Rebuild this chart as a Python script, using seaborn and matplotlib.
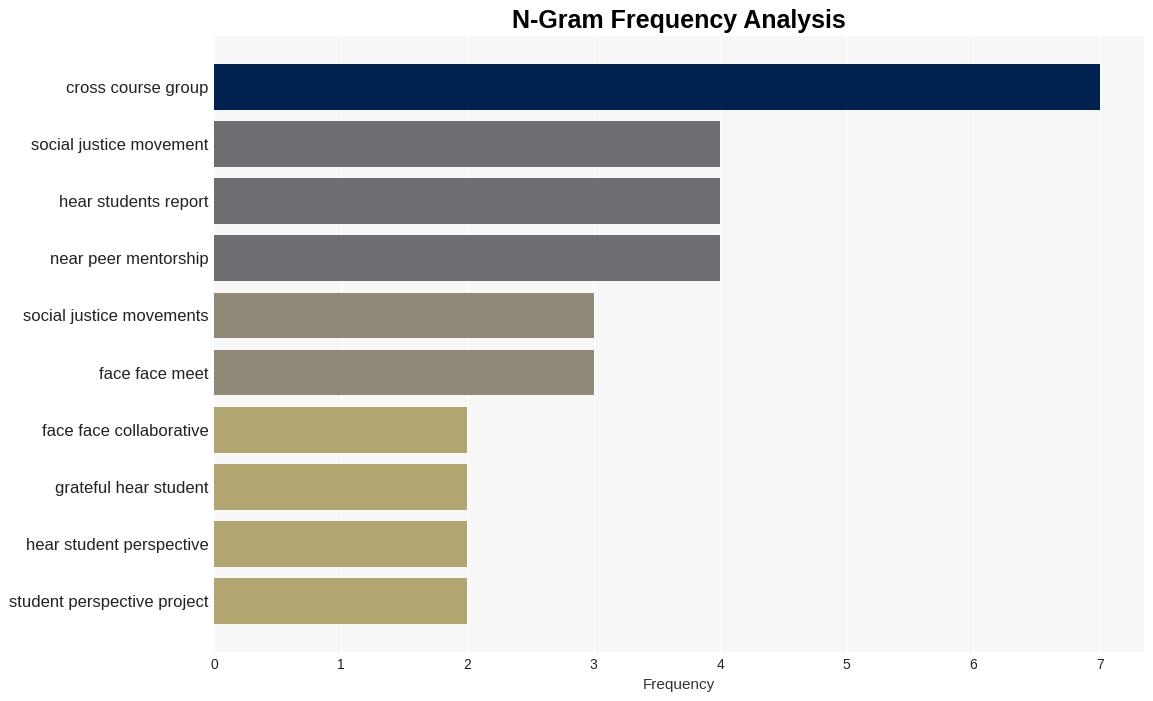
import matplotlib
matplotlib.use("Agg")
import matplotlib.pyplot as plt
import seaborn as sns
import pandas as pd

categories = ["cross course group", "social justice movement", "hear students report",
              "near peer mentorship", "social justice movements", "face face meet",
              "face face collaborative", "grateful hear student", "hear student perspective",
              "student perspective project"]
values = [7, 4, 4, 4, 3, 3, 2, 2, 2, 2]
color_by_value = {7: "#00224e", 4: "#6e6e72", 3: "#8f8977", 2: "#b1a570"}

df = pd.DataFrame({"ngram": categories, "freq": values})

sns.set_theme(style="darkgrid")
plt.rcParams["font.family"] = ["Liberation Sans", "DejaVu Sans"]
plt.rcParams["axes.facecolor"] = "#f7f7f7"
plt.rcParams["grid.color"] = "white"

fig = plt.figure(figsize=(11.53, 7.01), dpi=100)
ax = fig.add_axes([214/1153, 1 - 652/701, (1144 - 214)/1153, (652 - 36)/701])
sns.barplot(data=df, x="freq", y="ngram", hue="ngram",
            palette=[color_by_value[v] for v in values], legend=False,
            width=0.8, ax=ax, saturation=1, linewidth=0)
ax.set_xlim(0, 7.35)
ax.set_ylim(9.89, -0.89)
ax.set_xlabel("Frequency", fontsize=11, color="#333333", labelpad=5)
ax.set_ylabel("")
ax.tick_params(axis="y", labelsize=12, colors="#222222", length=0, pad=4)
ax.tick_params(axis="x", labelsize=10, colors="#222222", length=0, pad=4)
ax.set_title("N-Gram Frequency Analysis", fontsize=18, fontweight="bold", pad=6, color="black")
for s in ax.spines.values():
    s.set_visible(False)
fig.savefig("out.png", dpi=100)
